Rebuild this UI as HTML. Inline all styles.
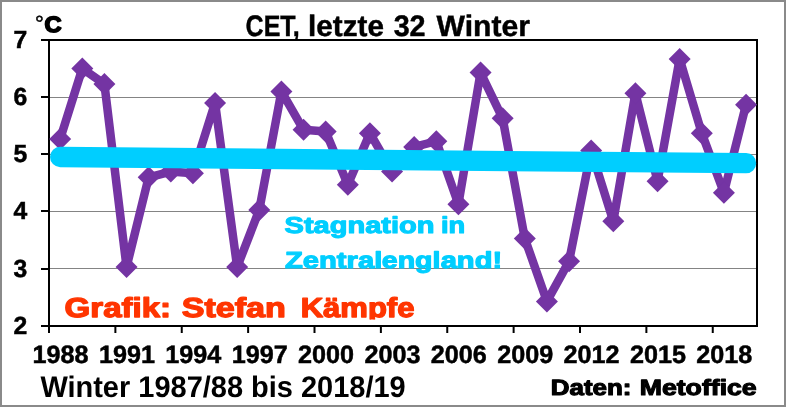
<!DOCTYPE html>
<html lang="de">
<head>
<meta charset="utf-8">
<title>CET, letzte 32 Winter</title>
<style>
html,body{margin:0;padding:0;background:#fff;}
body{width:786px;height:407px;overflow:hidden;}
svg{display:block;}
text{font-family:"Liberation Sans",sans-serif;font-weight:bold;text-rendering:geometricPrecision;}
</style>
</head>
<body>
<svg width="786" height="407" viewBox="0 0 786 407">
<rect x="0" y="0" width="786" height="407" fill="#fff"/>
<path d="M0 0H786V407H0Z M2 2V405H784V2Z" fill="#8a8a8a" fill-rule="evenodd"/>
<line x1="49.0" y1="97.5" x2="757.0" y2="97.5" stroke="#848484" stroke-width="1"/>
<line x1="49.0" y1="154.5" x2="757.0" y2="154.5" stroke="#848484" stroke-width="1"/>
<line x1="49.0" y1="211.5" x2="757.0" y2="211.5" stroke="#848484" stroke-width="1"/>
<line x1="49.0" y1="268.5" x2="757.0" y2="268.5" stroke="#848484" stroke-width="1"/>
<g stroke="#000" stroke-width="2" fill="none">
<line x1="41" y1="40.0" x2="758.0" y2="40.0"/>
<line x1="757.0" y1="40.0" x2="757.0" y2="327.0"/>
<line x1="41" y1="326.0" x2="757.0" y2="326.0"/>
<line x1="49.0" y1="40.0" x2="49.0" y2="333"/>
<line x1="41" y1="97" x2="49.0" y2="97"/>
<line x1="41" y1="154" x2="49.0" y2="154"/>
<line x1="41" y1="211" x2="49.0" y2="211"/>
<line x1="41" y1="269" x2="49.0" y2="269"/>
<line x1="115.38" y1="326.0" x2="115.38" y2="333"/>
<line x1="181.75" y1="326.0" x2="181.75" y2="333"/>
<line x1="248.12" y1="326.0" x2="248.12" y2="333"/>
<line x1="314.50" y1="326.0" x2="314.50" y2="333"/>
<line x1="380.88" y1="326.0" x2="380.88" y2="333"/>
<line x1="447.25" y1="326.0" x2="447.25" y2="333"/>
<line x1="513.62" y1="326.0" x2="513.62" y2="333"/>
<line x1="580.00" y1="326.0" x2="580.00" y2="333"/>
<line x1="646.38" y1="326.0" x2="646.38" y2="333"/>
<line x1="712.75" y1="326.0" x2="712.75" y2="333"/>
</g>
<text y="233.00" font-size="23.00" fill="#00ceff" stroke="#00ceff" stroke-width="1.1" stroke-linejoin="round"><tspan id="stag" x="284.54" y="233.00" textLength="149.97" lengthAdjust="spacingAndGlyphs">Stagnation</tspan> <tspan id="in" x="441.03" y="233.00" textLength="24.22" lengthAdjust="spacingAndGlyphs">in</tspan></text>
<text y="267.50" font-size="23.00" fill="#00ceff" stroke="#00ceff" stroke-width="1.1" stroke-linejoin="round"><tspan id="zent1" x="284.90" y="267.50" textLength="97.39" lengthAdjust="spacingAndGlyphs">Zentral</tspan><tspan id="zent2" x="381.83" y="267.50" textLength="58.64" lengthAdjust="spacingAndGlyphs">engl</tspan><tspan id="zent3" x="440.68" y="267.50" textLength="61.47" lengthAdjust="spacingAndGlyphs">and!</tspan></text>
<clipPath id="gc"><rect x="50" y="280" width="700" height="39.6"/></clipPath>
<g clip-path="url(#gc)">
<text y="317.00" font-size="27.40" fill="#ff3500" stroke="#ff3500" stroke-width="1.3" stroke-linejoin="round"><tspan id="graf" x="64.62" y="317.00" textLength="106.40" lengthAdjust="spacingAndGlyphs">Grafik:</tspan> <tspan id="stef" x="181.66" y="317.00" textLength="104.19" lengthAdjust="spacingAndGlyphs">Stefan</tspan> <tspan id="kamp" x="300.66" y="317.00" textLength="113.81" lengthAdjust="spacingAndGlyphs">Kämpfe</tspan></text>
</g>
<polyline points="60.16,138.96 82.29,68.60 104.41,84.04 126.54,267.08 148.66,177.28 170.79,171.56 192.91,173.28 215.04,102.92 237.16,267.08 259.29,209.88 281.41,91.48 303.54,129.80 325.66,131.52 347.79,184.72 369.91,133.24 392.04,171.56 414.16,146.96 436.29,141.24 458.41,204.16 480.54,72.60 502.66,118.36 524.79,238.48 546.91,301.40 569.04,261.36 591.16,150.40 613.29,221.32 635.41,93.20 657.54,181.28 679.66,58.88 701.79,133.24 723.91,192.72 746.04,104.64" fill="none" stroke="#7434a3" stroke-width="8.5" stroke-linejoin="round" stroke-linecap="round"/>
<g fill="#7434a3">
<path d="M60.16 127.96L71.16 138.96L60.16 149.96L49.16 138.96Z"/>
<path d="M82.29 57.60L93.29 68.60L82.29 79.60L71.29 68.60Z"/>
<path d="M104.41 73.04L115.41 84.04L104.41 95.04L93.41 84.04Z"/>
<path d="M126.54 256.08L137.54 267.08L126.54 278.08L115.54 267.08Z"/>
<path d="M148.66 166.28L159.66 177.28L148.66 188.28L137.66 177.28Z"/>
<path d="M170.79 160.56L181.79 171.56L170.79 182.56L159.79 171.56Z"/>
<path d="M192.91 162.28L203.91 173.28L192.91 184.28L181.91 173.28Z"/>
<path d="M215.04 91.92L226.04 102.92L215.04 113.92L204.04 102.92Z"/>
<path d="M237.16 256.08L248.16 267.08L237.16 278.08L226.16 267.08Z"/>
<path d="M259.29 198.88L270.29 209.88L259.29 220.88L248.29 209.88Z"/>
<path d="M281.41 80.48L292.41 91.48L281.41 102.48L270.41 91.48Z"/>
<path d="M303.54 118.80L314.54 129.80L303.54 140.80L292.54 129.80Z"/>
<path d="M325.66 120.52L336.66 131.52L325.66 142.52L314.66 131.52Z"/>
<path d="M347.79 173.72L358.79 184.72L347.79 195.72L336.79 184.72Z"/>
<path d="M369.91 122.24L380.91 133.24L369.91 144.24L358.91 133.24Z"/>
<path d="M392.04 160.56L403.04 171.56L392.04 182.56L381.04 171.56Z"/>
<path d="M414.16 135.96L425.16 146.96L414.16 157.96L403.16 146.96Z"/>
<path d="M436.29 130.24L447.29 141.24L436.29 152.24L425.29 141.24Z"/>
<path d="M458.41 193.16L469.41 204.16L458.41 215.16L447.41 204.16Z"/>
<path d="M480.54 61.60L491.54 72.60L480.54 83.60L469.54 72.60Z"/>
<path d="M502.66 107.36L513.66 118.36L502.66 129.36L491.66 118.36Z"/>
<path d="M524.79 227.48L535.79 238.48L524.79 249.48L513.79 238.48Z"/>
<path d="M546.91 290.40L557.91 301.40L546.91 312.40L535.91 301.40Z"/>
<path d="M569.04 250.36L580.04 261.36L569.04 272.36L558.04 261.36Z"/>
<path d="M591.16 139.40L602.16 150.40L591.16 161.40L580.16 150.40Z"/>
<path d="M613.29 210.32L624.29 221.32L613.29 232.32L602.29 221.32Z"/>
<path d="M635.41 82.20L646.41 93.20L635.41 104.20L624.41 93.20Z"/>
<path d="M657.54 170.28L668.54 181.28L657.54 192.28L646.54 181.28Z"/>
<path d="M679.66 47.88L690.66 58.88L679.66 69.88L668.66 58.88Z"/>
<path d="M701.79 122.24L712.79 133.24L701.79 144.24L690.79 133.24Z"/>
<path d="M723.91 181.72L734.91 192.72L723.91 203.72L712.91 192.72Z"/>
<path d="M746.04 93.64L757.04 104.64L746.04 115.64L735.04 104.64Z"/>
</g>
<line x1="60.16" y1="157.0" x2="746.04" y2="163.2" stroke="#00ceff" stroke-width="20.3" stroke-linecap="round"/>
<text y="36.00" font-size="29.60" fill="#000" stroke="#000" stroke-width="0.45" stroke-linejoin="round"><tspan id="cet" x="245.57" y="36.00" textLength="54.24" lengthAdjust="spacingAndGlyphs">CET,</tspan> <tspan id="letzte" x="308.05" y="36.00" textLength="75.91" lengthAdjust="spacingAndGlyphs">letzte</tspan> <tspan id="n32" x="393.63" y="36.00" textLength="31.98" lengthAdjust="spacingAndGlyphs">32</tspan> <tspan id="winter" x="436.52" y="36.00" textLength="93.44" lengthAdjust="spacingAndGlyphs">Winter</tspan></text>
<text x="27.3" y="48" font-size="24.7" text-anchor="end" stroke="#000" stroke-width="0.5">7</text>
<text x="27.3" y="105" font-size="24.7" text-anchor="end" stroke="#000" stroke-width="0.5">6</text>
<text x="27.3" y="162" font-size="24.7" text-anchor="end" stroke="#000" stroke-width="0.5">5</text>
<text x="27.3" y="219" font-size="24.7" text-anchor="end" stroke="#000" stroke-width="0.5">4</text>
<text x="27.3" y="277" font-size="24.7" text-anchor="end" stroke="#000" stroke-width="0.5">3</text>
<text x="27.3" y="334" font-size="24.7" text-anchor="end" stroke="#000" stroke-width="0.5">2</text>
<text x="60.56" y="363" font-size="25.2" text-anchor="middle" stroke="#000" stroke-width="0.5">1988</text>
<text x="126.94" y="363" font-size="25.2" text-anchor="middle" stroke="#000" stroke-width="0.5">1991</text>
<text x="193.31" y="363" font-size="25.2" text-anchor="middle" stroke="#000" stroke-width="0.5">1994</text>
<text x="259.69" y="363" font-size="25.2" text-anchor="middle" stroke="#000" stroke-width="0.5">1997</text>
<text x="326.06" y="363" font-size="25.2" text-anchor="middle" stroke="#000" stroke-width="0.5">2000</text>
<text x="392.44" y="363" font-size="25.2" text-anchor="middle" stroke="#000" stroke-width="0.5">2003</text>
<text x="458.81" y="363" font-size="25.2" text-anchor="middle" stroke="#000" stroke-width="0.5">2006</text>
<text x="525.19" y="363" font-size="25.2" text-anchor="middle" stroke="#000" stroke-width="0.5">2009</text>
<text x="591.56" y="363" font-size="25.2" text-anchor="middle" stroke="#000" stroke-width="0.5">2012</text>
<text x="657.94" y="363" font-size="25.2" text-anchor="middle" stroke="#000" stroke-width="0.5">2015</text>
<text x="724.31" y="363" font-size="25.2" text-anchor="middle" stroke="#000" stroke-width="0.5">2018</text>
<text y="32.00" font-size="22.00" fill="#000" stroke="#000" stroke-width="1.6" stroke-linejoin="round"><tspan x="35" y="31" font-size="22" style="font-weight:normal" stroke-width="0.5">°</tspan><tspan id="unitC" x="44.53" y="32.00" textLength="17.12" lengthAdjust="spacingAndGlyphs">C</tspan></text>
<text id="wlong" x="40.38" y="397.00" font-size="29.80" fill="#000" textLength="365.35" lengthAdjust="spacingAndGlyphs">Winter 1987/88 bis 2018/19</text>
<text y="395.00" font-size="22.00" fill="#000" stroke="#000" stroke-width="1.1" stroke-linejoin="round"><tspan id="daten" x="550.79" y="395.00" textLength="80.66" lengthAdjust="spacingAndGlyphs">Daten:</tspan> <tspan id="metoffice" x="639.71" y="395.00" textLength="116.99" lengthAdjust="spacingAndGlyphs">Metoffice</tspan></text>
</svg>
</body>
</html>
